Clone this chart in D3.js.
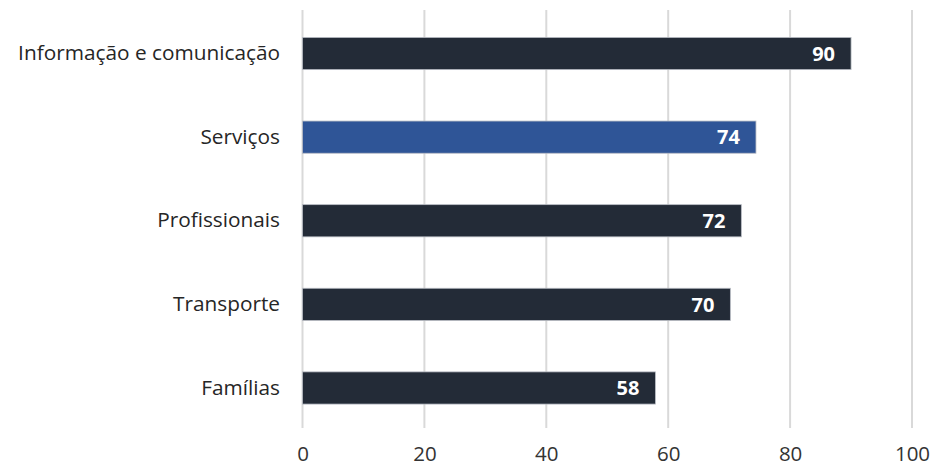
<!DOCTYPE html>
<html>
<head>
<meta charset="utf-8">
<script src="https://cdn.jsdelivr.net/npm/d3@7"></script>
<style>
  body { margin: 0; background: #fff; }
  svg { display: block; font-family: "Open Sans", "Noto Sans", sans-serif; }
</style>
</head>
<body>
<svg id="chart" width="933" height="468"></svg>
<script>
const categories = ["Informação e comunicação", "Serviços", "Profissionais", "Transporte", "Famílias"]
const values = [90, 74.4, 72, 70.2, 57.9]
const highlight = "Serviços"
const ticks = [0, 20, 40, 60, 80, 100]

const width = 933, height = 468
const x0 = 302.5, x1 = 912

const x = d3.scaleLinear().domain([0, 100]).range([x0, x1])
const y = d3.scaleBand().domain(categories).range([11.5, 430]).paddingInner(0.615).paddingOuter(0.31)

const svg = d3.select("svg#chart")

// grid
svg.append("g")
    .attr("stroke", "#d9d9d9")
    .attr("stroke-width", 2)
  .selectAll("line")
  .data(ticks)
  .join("line")
    .attr("x1", d => x(d))
    .attr("x2", d => x(d))
    .attr("y1", 10)
    .attr("y2", 428)

// x axis labels
const xAxis = d3.axisBottom(x).tickValues(ticks).tickSize(0).tickPadding(0)
svg.append("g")
    .attr("transform", "translate(0,445)")
    .call(xAxis)
    .call(g => g.select(".domain").remove())
    .selectAll("text")
      .attr("dy", "0.8em")
      .attr("font-size", 20.5)
      .attr("font-family", "Open Sans, Noto Sans, sans-serif")
      .attr("fill", "#333")

// bars
const data = categories.map((c, i) => ({name: c, value: values[i]}))

svg.append("g")
  .selectAll("rect")
  .data(data)
  .join("rect")
    .attr("x", x(0))
    .attr("y", d => y(d.name))
    .attr("width", d => x(d.value) - x(0))
    .attr("height", y.bandwidth())
    .attr("fill", d => d.name === highlight ? "#2f5597" : "#232b37")
    .attr("stroke", "#b8bcc4")
    .attr("stroke-width", 0.8)

// value labels
svg.append("g")
    .attr("font-size", 20)
    .attr("font-weight", "bold")
    .attr("fill", "#fff")
    .attr("text-anchor", "end")
  .selectAll("text")
  .data(data)
  .join("text")
    .attr("x", d => x(d.value) - 16)
    .attr("y", d => y(d.name) + y.bandwidth() / 2)
    .attr("dy", "0.36em")
    .text(d => d3.format(".0f")(d.value))

// category labels
const yAxis = d3.axisLeft(y).tickSize(0).tickPadding(0)
svg.append("g")
    .attr("transform", "translate(280,0)")
    .call(yAxis)
    .call(g => g.select(".domain").remove())
    .selectAll("text")
      .attr("font-size", 20.8)
      .attr("font-family", "Open Sans, Noto Sans, sans-serif")
      .attr("fill", "#262626")
</script>
</body>
</html>
